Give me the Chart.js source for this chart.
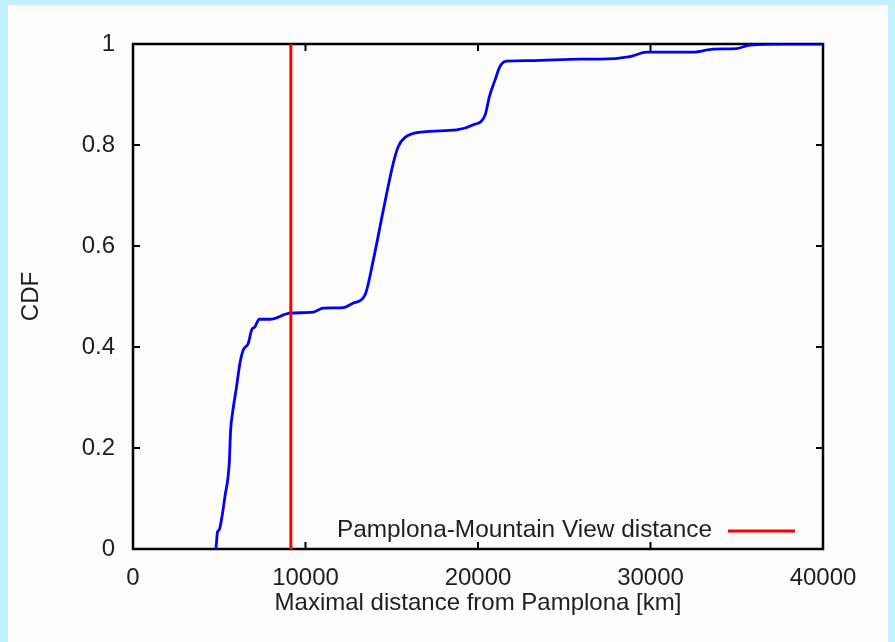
<!DOCTYPE html>
<html>
<head>
<meta charset="utf-8">
<script src="https://cdn.jsdelivr.net/npm/chart.js@4/dist/chart.umd.min.js"></script>
<style>
  html, body { margin: 0; padding: 0; background: #c2f0fc; }
  #wrap { position: absolute; left: 0; top: 0; width: 895px; height: 642px; }
</style>
</head>
<body>
<div id="wrap"><canvas id="cdfChart" width="895" height="642"></canvas></div>
<script>
// maximal distance from Pamplona (km) and the CDF at that distance
var distKm = [4810, 4900, 5000, 5190, 5330, 5580, 5660, 5770, 6000, 6200, 6390, 6680, 6880, 7070, 7320, 7940,
  9100, 10450, 11030, 12190, 12770, 13450, 13930, 14510, 15090, 15380, 15770, 16830, 18760, 19730,
  20410, 20660, 20990, 21280, 21670, 23010, 25910, 27070, 28810, 29780, 32480, 33640, 34990, 35770, 37700, 40000];
var cdf = [0, 0.034, 0.038, 0.071, 0.104, 0.170, 0.236, 0.269, 0.321, 0.368, 0.394, 0.407, 0.434, 0.440, 0.455, 0.455,
  0.467, 0.469, 0.477, 0.478, 0.487, 0.503, 0.572, 0.671, 0.764, 0.797, 0.815, 0.826, 0.830, 0.840,
  0.859, 0.896, 0.929, 0.956, 0.966, 0.967, 0.970, 0.970, 0.975, 0.984, 0.984, 0.990, 0.991, 0.998, 1.0, 1.0];

// Pamplona - Mountain View reference distance
var mvDistance = 9150;
var mvLabel = 'Pamplona-Mountain View distance';

var xTicks = [0, 10000, 20000, 30000, 40000];
var yTicks = [0, 0.2, 0.4, 0.6, 0.8, 1];

var FONT = '"Liberation Sans", Arial, Helvetica, sans-serif';
var TXT = '#1e1e1e';

var curve = distKm.map(function(d, i) { return { x: d, y: cdf[i] }; });
var mvLine = [{ x: mvDistance, y: 0 }, { x: mvDistance, y: 1 }];

// white panel behind the plot
var panelBg = {
  id: 'panelBg',
  beforeDraw: function(chart) {
    var ctx = chart.ctx;
    ctx.save();
    ctx.fillStyle = '#c2f0fc';
    ctx.fillRect(0, 0, chart.width, chart.height);
    ctx.fillStyle = '#fdfdfd';
    ctx.fillRect(8, 5, chart.width - 15, chart.height - 5);
    ctx.restore();
  }
};

// gnuplot style border with inward ticks on every side
var frame = {
  id: 'frame',
  beforeDatasetsDraw: function(chart) {
    var ctx = chart.ctx, a = chart.chartArea;
    var xs = chart.scales.x, ys = chart.scales.y;
    var tl = 7;
    ctx.save();
    ctx.strokeStyle = '#000';
    ctx.lineWidth = 2.5;
    ctx.strokeRect(a.left, a.top, a.right - a.left, a.bottom - a.top);
    ctx.lineWidth = 2;
    ctx.beginPath();
    xTicks.forEach(function(v) {
      var px = xs.getPixelForValue(v);
      ctx.moveTo(px, a.bottom); ctx.lineTo(px, a.bottom - tl);
      ctx.moveTo(px, a.top); ctx.lineTo(px, a.top + tl);
    });
    yTicks.forEach(function(v) {
      var py = ys.getPixelForValue(v);
      ctx.moveTo(a.left, py); ctx.lineTo(a.left + tl, py);
      ctx.moveTo(a.right, py); ctx.lineTo(a.right - tl, py);
    });
    ctx.stroke();
    ctx.restore();
  },
  afterDatasetsDraw: function(chart) {
    // key in the lower right corner: text then line sample
    var ctx = chart.ctx, a = chart.chartArea;
    var y = a.bottom - 19;
    var sampleRight = a.right - 28;
    var sampleLeft = sampleRight - 67;
    ctx.save();
    ctx.font = '24.4px ' + FONT;
    ctx.fillStyle = TXT;
    ctx.textAlign = 'right';
    ctx.textBaseline = 'middle';
    ctx.fillText(mvLabel, sampleLeft - 16, y);
    ctx.strokeStyle = '#ff0000';
    ctx.lineWidth = 3;
    ctx.beginPath();
    ctx.moveTo(sampleLeft, y + 1);
    ctx.lineTo(sampleRight, y + 1);
    ctx.stroke();
    ctx.restore();
  }
};

var chart = new Chart(document.getElementById('cdfChart'), {
  type: 'scatter',
  data: {
    datasets: [{
      label: 'CDF',
      data: curve,
      showLine: true,
      borderColor: '#0000ff',
      borderWidth: 2.8,
      pointRadius: 0,
      cubicInterpolationMode: 'monotone',
      order: 2
    }, {
      label: mvLabel,
      data: mvLine,
      showLine: true,
      borderColor: '#ff0000',
      borderWidth: 3,
      pointRadius: 0,
      order: 1
    }]
  },
  options: {
    responsive: false,
    animation: false,
    layout: { padding: { top: 44, right: 72, left: 0, bottom: 0 } },
    plugins: { legend: { display: false }, tooltip: { enabled: false } },
    scales: {
      x: {
        type: 'linear',
        min: 0, max: 40000,
        afterBuildTicks: function(s) { s.ticks = xTicks.map(function(v) { return { value: v }; }); },
        afterFit: function(s) { s.height = 93; },
        grid: { display: false },
        border: { display: false },
        ticks: {
          color: TXT, padding: 7, maxRotation: 0,
          font: { family: FONT, size: 24 },
          callback: function(v) { return String(v); }
        },
        title: {
          display: true,
          text: 'Maximal distance from Pamplona [km]',
          color: TXT,
          font: { family: FONT, size: 24 },
          padding: { top: 0, bottom: 24 }
        }
      },
      y: {
        type: 'linear',
        min: 0, max: 1,
        afterBuildTicks: function(s) { s.ticks = yTicks.map(function(v) { return { value: v }; }); },
        afterFit: function(s) { s.width = 133; },
        grid: { display: false },
        border: { display: false },
        ticks: {
          color: TXT, padding: 10,
          font: { family: FONT, size: 24 },
          callback: function(v) { return String(v); }
        },
        title: {
          display: true,
          text: 'CDF',
          color: TXT,
          font: { family: FONT, size: 24 },
          padding: { top: 17, bottom: 0 }
        }
      }
    }
  },
  plugins: [panelBg, frame]
});
</script>
</body>
</html>
